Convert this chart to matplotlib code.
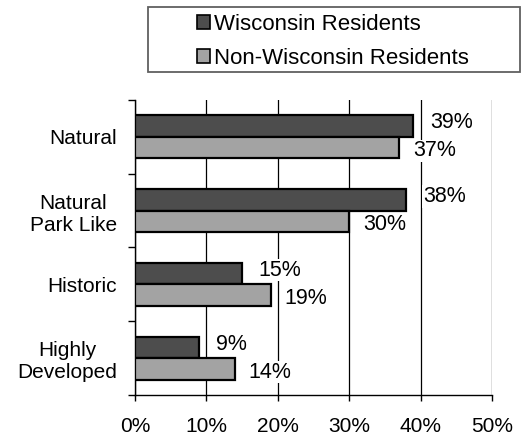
import matplotlib
matplotlib.use('Agg')
import matplotlib.pyplot as plt
from matplotlib.patches import Rectangle, Patch
import numpy as np

plt.rcParams['font.family'] = ['Liberation Sans', 'DejaVu Sans']

categories = ["Natural", "Natural\nPark Like", "Historic", "Highly\nDeveloped"]
wisconsin = [39, 38, 15, 9]
non_wisconsin = [37, 30, 19, 14]
series_names = ["Wisconsin Residents", "Non-Wisconsin Residents"]
x_ticks = [0, 10, 20, 30, 40, 50]
x_tick_labels = [f"{v}%" for v in x_ticks]

DARK = '#4d4d4d'
LIGHT = '#a3a3a3'
FS = 15

fig = plt.figure(figsize=(5.25, 4.38), dpi=100)
ax = fig.add_axes([0.257, 0.098, 0.68, 0.674])
y = np.arange(len(categories))
h = 0.29
ax.barh(y - h / 2, wisconsin, height=h, color=DARK, edgecolor='black', linewidth=1.6, zorder=3)
ax.barh(y + h / 2, non_wisconsin, height=h, color=LIGHT, edgecolor='black', linewidth=1.6, zorder=3)

ax.set_xlim(0, 50)
ax.set_ylim(len(categories) - 0.5, -0.5)
ax.set_xticks(x_ticks)
ax.set_xticklabels(x_tick_labels, fontsize=FS)
ax.xaxis.grid(True, color='black', linewidth=0.9)
ax.set_axisbelow(True)

ax.set_yticks(np.arange(-0.5, len(categories), 1))
ax.set_yticklabels([])
ax.set_yticks(y, minor=True)
ax.set_yticklabels(categories, minor=True, fontsize=FS)
for lbl in ax.get_yticklabels(minor=True):
    lbl.set_multialignment('center')
ax.tick_params(axis='y', which='major', direction='out', length=5, width=1)
ax.tick_params(axis='y', which='minor', length=0, pad=13)
ax.tick_params(axis='x', direction='out', length=4.5, width=1, pad=11)

for s in ['top', 'right']:
    ax.spines[s].set_visible(False)
for s in ['left', 'bottom']:
    ax.spines[s].set_linewidth(1)

lbl_box = dict(facecolor='white', edgecolor='none', pad=0.5)
for yi, v in zip(y, wisconsin):
    ax.annotate(f"{v}%", xy=(v, yi - h / 2), xytext=(12, 2.5), textcoords='offset points',
                ha='left', va='center', fontsize=15.5, bbox=lbl_box, zorder=4)
for yi, v in zip(y, non_wisconsin):
    ax.annotate(f"{v}%", xy=(v, yi + h / 2), xytext=(10, -2.5), textcoords='offset points',
                ha='left', va='center', fontsize=15.5, bbox=lbl_box, zorder=4)

# legend box
fig.patches.append(Rectangle((148 / 525, 1 - 72 / 438), 372 / 525, 65 / 438,
                             transform=fig.transFigure, facecolor='white',
                             edgecolor='#606060', linewidth=1.3))
handles = [Patch(facecolor=DARK, edgecolor='black', linewidth=1.2),
           Patch(facecolor=LIGHT, edgecolor='black', linewidth=1.2)]
fig.legend(handles, series_names, loc='upper left', bbox_to_anchor=(197 / 525, 1 - 14 / 438),
           frameon=False, fontsize=16, handlelength=0.6, handleheight=0.6,
           handletextpad=0.15, labelspacing=0.58, borderpad=0, borderaxespad=0)

fig.savefig('out.png', dpi=100)
